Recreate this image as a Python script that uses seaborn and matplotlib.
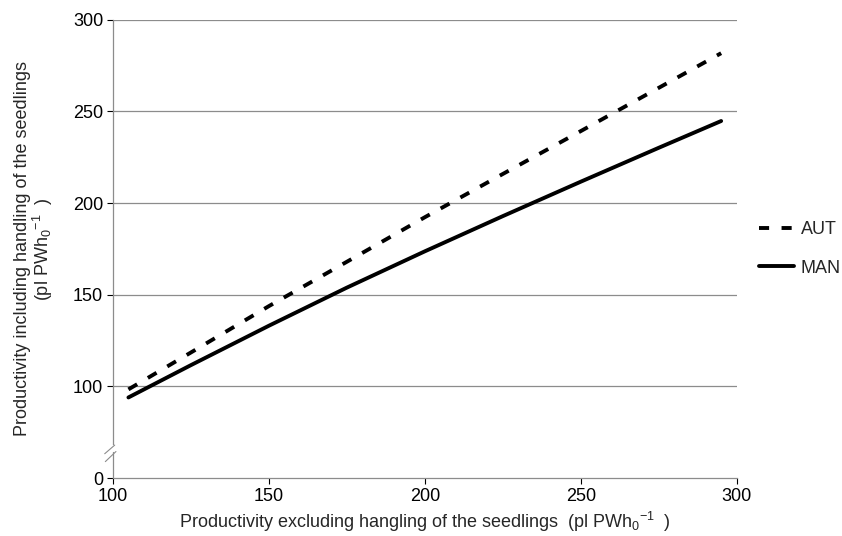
import numpy as np
import pandas as pd
import matplotlib
matplotlib.use('Agg')
import matplotlib.pyplot as plt
import seaborn as sns
from matplotlib.lines import Line2D

# 数据
x_vals = [105, 125, 150, 175, 200, 225, 250, 275, 295]
aut_vals = [98.4, 118.5, 143.8, 168.0, 192.3, 215.9, 239.3, 262.9, 281.8]
man_vals = [94.0, 111.6, 133.1, 153.9, 173.7, 192.9, 211.7, 230.2, 244.8]
series_names = ['AUT', 'MAN']

x_ticks = [100, 150, 200, 250, 300]
y_ticks = [50, 100, 150, 200, 250, 300]
y_tick_labels = ['0', '100', '150', '200', '250', '300']

df = pd.DataFrame({
    'x': x_vals * 2,
    'y': aut_vals + man_vals,
    'serie': ['AUT'] * len(x_vals) + ['MAN'] * len(x_vals),
})

sns.set_theme(style='white')
plt.rcParams['font.family'] = ['Liberation Sans', 'DejaVu Sans']
plt.rcParams['mathtext.fontset'] = 'custom'
plt.rcParams['mathtext.rm'] = 'Liberation Sans'
plt.rcParams['mathtext.it'] = 'Liberation Sans'

grey = '#8c8c8c'
lw = 2.8
dash = (2.6, 3.2)
fs = 13

fig = plt.figure(figsize=(8.42, 5.36), dpi=100)
ax = fig.add_axes([0.134, 0.108, 0.741, 0.855])

sns.lineplot(data=df, x='x', y='y', hue='serie', style='serie',
             palette={'AUT': 'black', 'MAN': 'black'},
             dashes={'AUT': dash, 'MAN': ''},
             linewidth=lw, ax=ax, legend=False)

ax.set_xlim(100, 300)
ax.set_ylim(50, 300)
ax.set_xticks(x_ticks)
ax.set_yticks(y_ticks)
ax.set_yticklabels(y_tick_labels)
ax.tick_params(axis='both', labelsize=fs, colors='black', length=4,
               width=0.8, direction='out', left=True, bottom=True, pad=3)
for t in ax.get_xticklines() + ax.get_yticklines():
    t.set_color(grey)

# 网格线
for yv in y_ticks[1:]:
    ax.axhline(yv, color=grey, linewidth=0.9, zorder=0)

for s in ['top', 'right']:
    ax.spines[s].set_visible(False)
ax.spines['bottom'].set_color(grey)
ax.spines['bottom'].set_linewidth(0.9)
ax.spines['left'].set_color(grey)
ax.spines['left'].set_linewidth(0.9)
ax.spines['left'].set_bounds(68.5, 300)

# 轴断裂标记
tr = ax.get_yaxis_transform()
ax.plot([0, 0], [50, 64.2], color=grey, linewidth=0.9, transform=tr, clip_on=False)
ax.plot([-0.013, 0.003], [63.3, 68.0], color=grey, linewidth=0.8, transform=tr, clip_on=False)
ax.plot([-0.012, 0.005], [59.0, 64.5], color=grey, linewidth=0.8, transform=tr, clip_on=False)

ax.set_xlabel(r'Productivity excluding hangling of the seedlings  (pl PWh$_0$$^{-1}$  )',
              fontsize=fs, labelpad=4)
ax.set_ylabel('Productivity including handling of the seedlings\n' + r'(pl PWh$_0$$^{-1}$  )',
              fontsize=fs, labelpad=13, linespacing=1.0)

handles = [Line2D([], [], color='black', linewidth=lw, dashes=dash),
           Line2D([], [], color='black', linewidth=lw)]
ax.legend(handles, series_names, loc='center left', bbox_to_anchor=(1.01, 0.5),
          frameon=False, fontsize=fs, handlelength=1.9, handletextpad=0.4,
          labelspacing=1.2)

fig.savefig('out.png', dpi=100)
